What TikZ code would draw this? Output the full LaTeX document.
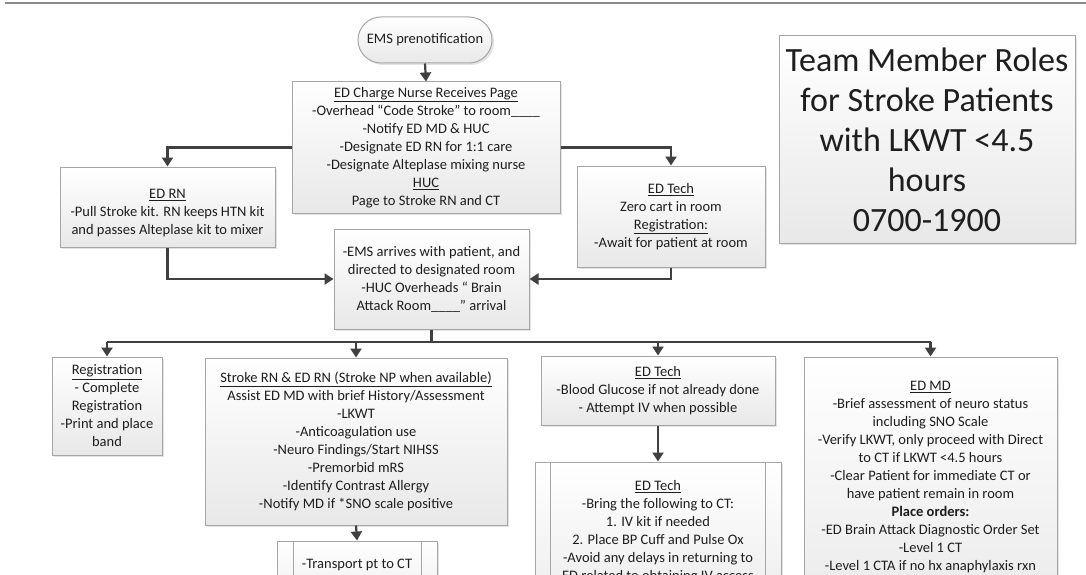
\documentclass[tikz,border=0pt]{standalone}
\usepackage{fontspec}
\setmainfont{Carlito}
\usetikzlibrary{arrows.meta,shadows,shapes.misc}
\definecolor{conncol}{HTML}{404040}
\definecolor{bordercol}{HTML}{A6A6A6}
\definecolor{txtcol}{HTML}{1E1E1E}
\tikzset{
  boxbase/.style={draw=bordercol, line width=1pt, top color=white, bottom color=black!9,
    drop shadow={shadow xshift=2pt, shadow yshift=-2pt, opacity=0.22, fill=black!50}},
  box/.style={boxbase, align=center, inner sep=0pt, text=txtcol,
    font=\fontsize{14.5}{18}\selectfont},
  txtnode/.style={align=center, inner sep=0pt, text=txtcol, font=\fontsize{14.5}{18}\selectfont},
  conn/.style={draw=conncol, line width=2.2pt},
  arr/.style={conn, -{Triangle[length=9pt,width=11pt]}},
  sidebar/.style={draw=bordercol, line width=1pt},
}
\begin{document}
\begin{tikzpicture}[x=1pt,y=-1pt]
\useasboundingbox[fill=white] (0,0) rectangle (1086,575);
\begin{scope}
\clip (0,0) rectangle (1086,575);
\draw[black!45, line width=1.5pt] (5,3) -- (1086,3);

% top chain
\node[boxbase, rounded rectangle, minimum width=134pt, minimum height=46pt, inner sep=0pt,
  text=txtcol, font=\fontsize{14.5}{18}\selectfont] (ems) at (425,40) {EMS prenotification};

\node[box, minimum width=268pt, minimum height=131pt] (charge) at (426,147.5)
 {\underline{ED Charge Nurse Receives Page}\\
  -Overhead “Code Stroke” to room\_\_\_\_\\
  -Notify ED MD \& HUC\\
  -Designate ED RN for 1:1 care\\
  -Designate Alteplase mixing nurse\\
  \underline{HUC}\\
  Page to Stroke RN and CT};

\node[boxbase, minimum width=215pt, minimum height=80pt, inner sep=0pt] (edrn) at (167.5,207) {};
\node[txtnode] (edrntxt) at (167.5,213)
 {\underline{ED RN}\\
  -Pull Stroke kit. RN keeps HTN kit\\
  and passes Alteplase kit to mixer};

\node[box, minimum width=188pt, minimum height=101pt] (tech1) at (671,216.5)
 {\underline{ED Tech}\\
  Zero cart in room\\
  \underline{Registration:}\\
  -Await for patient at room};

\node[box, minimum width=195pt, minimum height=100pt] (arrive) at (431.5,279)
 {-EMS arrives with patient, and\\
  directed to designated room\\
  -HUC Overheads “ Brain\\
  Attack Room\_\_\_\_” arrival};

\node[box, minimum width=296pt, minimum height=207pt, font=\fontsize{34}{40}\selectfont] (title) at (927,139.5)
 {Team Member Roles\\
  for Stroke Patients\\
  with LKWT <4.5\\
  hours\\
  0700-1900};

% second row
\node[box, minimum width=110pt, minimum height=98pt] (reg) at (107,406)
 {\underline{Registration}\\
  - Complete\\
  Registration\\
  -Print and place\\
  band};

\node[box, minimum width=302pt, minimum height=167pt] (stroke) at (356,441.5)
 {\underline{Stroke RN \& ED RN (Stroke NP when available)}\\
  Assist ED MD with brief History/Assessment\\
  -LKWT\\
  -Anticoagulation use\\
  -Neuro Findings/Start NIHSS\\
  -Premorbid mRS\\
  -Identify Contrast Allergy\\
  -Notify MD if *SNO scale positive};

\node[box, minimum width=234pt, minimum height=69pt] (tech2) at (658,390.5)
 {\underline{ED Tech}\\
  -Blood Glucose if not already done\\
  - Attempt IV when possible};

% cut-off boxes
\node[boxbase, minimum width=246pt, minimum height=180pt, inner sep=0pt] (tech3) at (658,552) {};
\draw[sidebar] ([xshift=16pt]tech3.north west) -- ([xshift=16pt]tech3.south west);
\draw[sidebar] ([xshift=-16pt]tech3.north east) -- ([xshift=-16pt]tech3.south east);
\node[txtnode, anchor=north] (tech3txt) at (658,480)
 {\underline{ED Tech}\\
  -Bring the following to CT:\\
  1. IV kit if needed\\
  2. Place BP Cuff and Pulse Ox\\
  -Avoid any delays in returning to\\
  ED related to obtaining IV access};

\node[boxbase, minimum width=160pt, minimum height=80pt, inner sep=0pt] (transport) at (357,581) {};
\draw[sidebar] ([xshift=17pt]transport.north west) -- ([xshift=17pt]transport.south west);
\draw[sidebar] ([xshift=-16pt]transport.north east) -- ([xshift=-16pt]transport.south east);
\node[txtnode] (transporttxt) at (357,565) {-Transport pt to CT};

\node[boxbase, minimum width=253pt, minimum height=280pt, inner sep=0pt] (edmd) at (930.5,497) {};
\node[txtnode, anchor=north] (edmdtxt) at (930.5,381)
 {\underline{ED MD}\\
  -Brief assessment of neuro status\\
  including SNO Scale\\
  -Verify LKWT, only proceed with Direct\\
  to CT if LKWT <4.5 hours\\
  -Clear Patient for immediate CT or\\
  have patient remain in room\\
  \textbf{Place orders:}\\
  -ED Brain Attack Diagnostic Order Set\\
  -Level 1 CT\\
  -Level 1 CTA if no hx anaphylaxis rxn};

% connectors
\draw[arr] (ems.south) -- (charge.north);
\draw[arr] (charge.west) -| (edrn.north);
\draw[arr] (charge.east) -| (tech1.north);
\draw[arr] (edrn.south) |- (arrive.west);
\draw[arr] (tech1.south) |- (arrive.east);

\coordinate (bus) at (431.5,342);
\draw[conn] (arrive.south) -- (bus);
\draw[conn] (reg.north |- bus) -- (edmd.north |- bus);
\draw[arr] (reg.north |- bus) -- (reg.north);
\draw[arr] (stroke.north |- bus) -- (stroke.north);
\draw[arr] (tech2.north |- bus) -- (tech2.north);
\draw[arr] (edmd.north |- bus) -- (edmd.north);
\draw[arr] (tech2.south) -- (tech3.north);
\draw[arr] (stroke.south) -- (transport.north);
\end{scope}
\end{tikzpicture}
\end{document}
